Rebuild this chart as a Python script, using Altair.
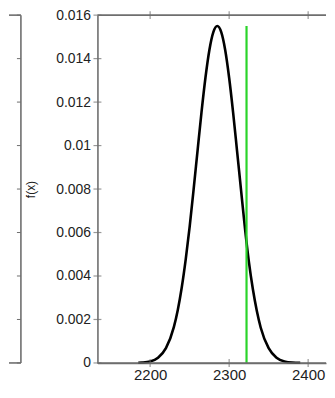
import altair as alt
import pandas as pd

# ---- data ----
x_vals = [2185, 2190, 2200, 2210, 2220, 2230, 2235, 2240, 2245, 2250, 2255, 2260, 2265,
          2270, 2275, 2280, 2285, 2290, 2295, 2300, 2305, 2310, 2315, 2320, 2325,
          2330, 2335, 2340, 2350, 2360, 2370, 2380, 2390]
fx_vals = [0.00001, 0.00002, 0.00007, 0.00024, 0.00068, 0.00165, 0.00244, 0.00347, 0.00475,
           0.00626, 0.00797, 0.00976, 0.01153, 0.01312, 0.0144, 0.01522, 0.0155, 0.01522,
           0.0144, 0.01312, 0.01153, 0.00976, 0.00797, 0.0062, 0.00465, 0.0034, 0.0024,
           0.00162, 0.00068, 0.00024, 0.00007, 0.00002, 0.00001]
marker_x = [2322]
marker_top = [0.0155]
x_ticks = [2200, 2300, 2400]
y_ticks = [0, 0.002, 0.004, 0.006, 0.008, 0.01, 0.012, 0.014, 0.016]

curve = pd.DataFrame({"x": x_vals, "fx": fx_vals})
marker = pd.DataFrame({"x": marker_x, "y0": [0] * len(marker_x), "y1": marker_top})
ybounds = pd.DataFrame({"y": [y_ticks[0], y_ticks[-1]]})
yticks_df = pd.DataFrame({"y": y_ticks})
xticks_df = pd.DataFrame({"x": x_ticks})

W_MAIN = 230
W_LEFT = 12
H = 350
TICK = 4
GRAY = "#6e6e6e"
LW = 1.6
FONT = "Liberation Sans"

xs = alt.Scale(domain=[2133.3, 2422.6], nice=False, zero=False)
ys = alt.Scale(domain=[0, 0.016], nice=False, zero=False)

line = alt.Chart(curve).mark_line(color="black", strokeWidth=2.6, interpolate="monotone").encode(
    x=alt.X("x:Q", scale=xs, axis=alt.Axis(
        orient="bottom", values=x_ticks, format="d", ticks=False, domain=True,
        domainColor=GRAY, domainWidth=LW,
        labelFontSize=15, labelPadding=5, labelColor="#222222", labelFont=FONT, title=None)),
    y=alt.Y("fx:Q", scale=ys, axis=alt.Axis(
        orient="left", values=y_ticks, format="~g", ticks=False, domain=True,
        domainColor=GRAY, domainWidth=LW,
        labelFontSize=14, labelPadding=7, labelColor="#222222", labelFont=FONT,
        title="f(x)", titleFontSize=12, titleFontWeight="normal", titleFont=FONT,
        titleColor="#222222", titleX=-60)),
)

green = alt.Chart(marker).mark_rule(color="#2ad42a", strokeWidth=2.2).encode(
    x=alt.X("x:Q"),
    y=alt.Y("y0:Q"),
    y2="y1:Q",
)

# top and bottom borders of the box
hb = alt.Chart(ybounds).mark_rule(color=GRAY, strokeWidth=LW).encode(
    y=alt.Y("y:Q"), x=alt.value(0), x2=alt.value(W_MAIN))
# inward ticks
yt = alt.Chart(yticks_df).mark_tick(color=GRAY, thickness=1.2, size=2 * TICK).encode(
    y=alt.Y("y:Q"), x=alt.value(0))
xt_bot = alt.Chart(xticks_df).mark_tick(color=GRAY, thickness=1.2, size=2 * TICK, orient="vertical").encode(
    x=alt.X("x:Q"), y=alt.value(H))
xt_top = alt.Chart(xticks_df).mark_tick(color=GRAY, thickness=1.2, size=2 * TICK, orient="vertical").encode(
    x=alt.X("x:Q"), y=alt.value(0))

main = alt.layer(line, green, hb, yt, xt_bot, xt_top).properties(width=W_MAIN, height=H)

# partial neighbouring panel on the left (only its right edge is in view)
l_h = alt.Chart(ybounds).mark_rule(color=GRAY, strokeWidth=LW).encode(
    y=alt.Y("y:Q", scale=ys, axis=None), x=alt.value(0), x2=alt.value(W_LEFT))
l_v = alt.Chart(ybounds).mark_rule(color=GRAY, strokeWidth=LW).encode(
    x=alt.value(W_LEFT), y=alt.Y("min(y):Q", scale=ys, axis=None), y2="max(y):Q")
l_t = alt.Chart(yticks_df).mark_rule(color=GRAY, strokeWidth=1).encode(
    y=alt.Y("y:Q", scale=ys, axis=None), x=alt.value(W_LEFT - TICK), x2=alt.value(W_LEFT))
left = alt.layer(l_h, l_v, l_t).properties(width=W_LEFT, height=H)

chart = alt.hconcat(left, main, spacing=77, bounds="flush").properties(
    padding={"left": 0, "top": -1, "right": 0, "bottom": 0}
).configure_view(stroke=None).configure_axis(grid=False)

chart.save("out.html", embed_options={"renderer": "svg", "actions": False})
